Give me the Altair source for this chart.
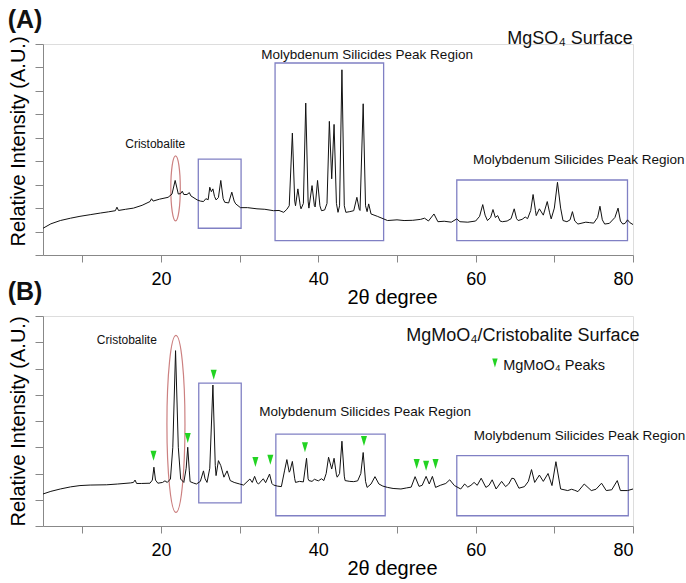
import altair as alt
import pandas as pd

FONT = "Liberation Sans"
LINE = "#111111"
BOX = "#8080c4"
RING = "#cc8080"
GREEN = "#22d322"

# ---- (A) MgSO4 surface: 2θ (degree) and relative intensity ----
a_theta = [5.0, 6.0, 7.2, 8.5, 9.7, 11.0, 12.3, 13.3, 14.2, 14.4, 14.6, 15.5, 16.5, 17.6,
           18.6, 18.8, 19.0, 19.8, 20.9, 21.4, 21.8, 22.2, 22.5, 22.7, 22.9, 23.3, 23.6,
           23.8, 24.6, 25.0, 25.4, 25.7, 26.0, 26.2, 26.4, 26.6, 26.8, 27.0, 27.3, 27.6,
           27.9, 28.1, 28.6, 29.0, 29.3, 29.5, 30.1, 31.0, 32.2, 33.2, 34.3, 35.0, 35.6,
           36.0, 36.3, 36.7, 37.0, 37.1, 37.4, 37.7, 37.8, 38.1, 38.4, 38.7, 38.8, 39.2,
           39.5, 39.6, 39.9, 40.2, 40.4, 40.8, 41.1, 41.4, 41.7, 42.0, 42.3, 42.5, 42.7,
           43.0, 43.3, 43.5, 44.0, 44.5, 44.9, 45.2, 45.3, 45.7, 46.0, 46.2, 46.4, 46.7,
           47.5, 48.8, 50.0, 50.9, 52.0, 53.0, 53.5, 54.0, 54.7, 55.2, 56.0, 56.9, 57.6,
           58.0, 59.0, 60.0, 60.5, 60.9, 61.2, 61.5, 61.9, 62.2, 62.5, 62.8, 63.1, 63.4,
           64.0, 64.5, 64.9, 65.2, 65.4, 65.9, 66.3, 66.6, 67.0, 67.3, 67.6, 67.7, 68.1,
           68.6, 69.1, 69.4, 69.6, 70.0, 70.4, 70.8, 71.1, 71.6, 72.0, 72.3, 72.6, 73.0,
           74.0, 74.5, 75.0, 75.5, 75.8, 76.1, 76.4, 77.0, 77.7, 78.1, 78.4, 78.7, 79.0,
           79.3, 79.6, 80.0]
a_int = [1.14, 1.33, 1.47, 1.57, 1.65, 1.72, 1.79, 1.84, 1.89, 2.04, 1.90, 1.95, 2.00, 2.12,
         2.28, 2.40, 2.30, 2.38, 2.46, 2.60, 3.18, 2.60, 2.62, 2.72, 2.58, 2.58, 2.66,
         2.52, 2.35, 2.30, 2.28, 2.40, 2.36, 2.89, 2.70, 2.82, 2.50, 2.35, 2.45, 3.18,
         2.40, 2.25, 2.22, 2.68, 2.30, 2.18, 2.02, 2.02, 1.97, 1.95, 1.89, 1.90, 1.82,
         1.95, 2.10, 5.20, 2.30, 2.10, 2.82, 2.10, 1.97, 2.20, 6.48, 2.30, 2.00, 2.96,
         2.10, 2.05, 3.18, 2.10, 1.89, 1.92, 2.20, 5.70, 3.25, 5.57, 2.20, 1.82, 2.10,
         7.90, 2.10, 1.82, 1.85, 1.89, 2.46, 1.95, 1.90, 6.45, 2.10, 1.85, 2.18, 1.75,
         1.65, 1.47, 1.50, 1.47, 1.48, 1.52, 1.57, 1.45, 1.75, 1.42, 1.44, 1.40, 1.54,
         1.42, 1.40, 1.45, 1.65, 2.15, 1.70, 1.47, 1.60, 1.94, 1.60, 1.68, 1.45, 1.42,
         1.45, 1.55, 1.97, 1.55, 1.47, 1.52, 1.62, 1.55, 1.90, 2.58, 1.90, 1.68, 1.97,
         1.70, 2.28, 1.80, 1.54, 2.00, 3.10, 2.00, 1.47, 1.42, 1.50, 1.85, 1.45, 1.32,
         1.40, 1.38, 1.36, 1.60, 2.08, 1.50, 1.32, 1.35, 1.60, 2.00, 1.45, 1.32, 1.35,
         1.50, 1.38, 1.30]

# ---- (B) MgMoO4/cristobalite surface ----
b_theta = [5.0, 6.0, 7.2, 8.5, 9.7, 11.0, 13.1, 14.5, 16.1, 16.5, 16.7, 16.9, 17.5, 18.6,
           18.9, 19.1, 19.3, 19.6, 20.2, 20.5, 20.8, 21.2, 21.5, 21.85, 22.2, 22.5, 22.9,
           23.2, 23.4, 23.6, 23.7, 24.1, 24.5, 25.0, 25.4, 25.6, 25.85, 26.2, 26.6, 26.9,
           27.0, 27.3, 27.6, 28.0, 28.4, 28.8, 29.3, 30.0, 30.5, 31.3, 31.6, 31.9, 32.2,
           32.4, 33.0, 33.3, 33.8, 34.1, 34.3, 34.8, 35.3, 35.7, 36.0, 36.3, 36.4, 36.7,
           37.0, 37.1, 37.6, 38.1, 38.5, 38.7, 38.8, 39.2, 39.5, 40.0, 40.4, 40.7, 41.0,
           41.3, 41.7, 42.0, 42.3, 42.4, 42.7, 43.0, 43.3, 43.4, 44.0, 44.5, 45.0, 45.4,
           45.7, 46.0, 46.2, 46.7, 47.2, 47.7, 48.2, 48.8, 49.5, 50.5, 51.2, 51.8, 52.3,
           52.8, 53.2, 53.7, 54.1, 54.5, 54.9, 55.5, 56.2, 56.7, 57.3, 58.1, 58.6, 59.0,
           59.4, 59.8, 60.2, 60.7, 61.3, 61.7, 62.1, 62.6, 63.3, 63.8, 64.2, 64.6, 64.9,
           65.5, 66.2, 66.7, 67.1, 67.5, 68.1, 68.6, 69.2, 69.7, 70.2, 70.8, 71.7, 72.2,
           72.6, 73.0, 73.8, 74.7, 75.3, 76.0, 76.6, 77.3, 78.0, 78.4, 79.3, 80.0]
b_int = [1.22, 1.32, 1.41, 1.49, 1.54, 1.56, 1.57, 1.60, 1.64, 1.66, 1.75, 1.62, 1.62, 1.63,
         1.75, 2.24, 1.75, 1.63, 1.66, 1.72, 1.66, 1.79, 3.00, 6.68, 3.00, 1.79, 1.66,
         2.20, 3.00, 2.10, 1.69, 1.64, 1.60, 1.70, 2.10, 1.80, 1.66, 2.20, 5.37, 2.30,
         1.92, 2.49, 2.30, 1.86, 2.10, 1.73, 1.66, 1.60, 1.56, 1.79, 1.66, 1.89, 1.65,
         1.60, 1.80, 1.65, 1.98, 1.62, 1.56, 1.52, 1.50, 2.10, 2.53, 2.05, 2.10, 2.46,
         1.80, 1.66, 1.70, 1.68, 2.58, 1.80, 1.73, 1.70, 1.78, 1.72, 1.80, 1.73, 2.00,
         2.62, 2.17, 2.58, 1.95, 1.86, 2.00, 3.23, 1.90, 1.73, 1.70, 1.69, 1.72, 2.00,
         2.80, 1.70, 1.47, 1.60, 1.88, 1.60, 1.52, 1.47, 1.43, 1.41, 1.45, 1.48, 1.88,
         1.51, 1.55, 1.89, 1.60, 1.89, 1.47, 1.55, 1.62, 1.76, 1.54, 1.41, 1.60, 1.48,
         1.55, 1.66, 1.55, 1.82, 1.47, 1.55, 1.76, 1.41, 1.70, 1.50, 1.60, 1.82, 1.80,
         1.44, 1.50, 1.70, 2.15, 1.66, 1.94, 1.70, 2.00, 1.54, 2.45, 1.41, 1.35, 1.40,
         1.36, 1.31, 1.60, 1.35, 1.40, 1.63, 1.35, 1.38, 1.73, 1.35, 1.35, 1.41]

# MgMoO4 peak markers (panel B)
mk_theta = [19.05, 23.4, 26.7, 32.0, 33.9, 38.3, 45.8, 52.5, 53.7, 54.9]
mk_int = [2.68, 3.35, 5.76, 2.44, 2.52, 3.0, 3.24, 2.36, 2.3, 2.36]

# Legend entry for the markers
key_theta = [62.45]
key_int = [6.21]
key_text_theta = [63.5]
key_text_int = [6.1]
key_label = ["MgMoO₄ Peaks"]

# Peak-region boxes
a_box_lo = [24.74, 34.5, 57.6]
a_box_hi = [30.18, 48.3, 79.3]
a_box_bot = [1.14, 0.61, 0.61]
a_box_top = [4.09, 8.19, 3.2]
b_box_lo = [24.8, 34.6, 57.6]
b_box_hi = [30.2, 48.5, 79.4]
b_box_bot = [0.88, 0.39, 0.39]
b_box_top = [5.44, 3.5, 2.68]

# Cristobalite ring: centre (theta, intensity), height in px, width/height ratio
a_ring = (21.85, 2.84, 65, 0.146)
b_ring = (21.9, 3.89, 177, 0.102)

REGION = "Molybdenum Silicides Peak Region"
a_text = ["Cristobalite", REGION, REGION, "MgSO₄ Surface"]
a_text_x = [19.27, 46.2, 73.1, 72.0]
a_text_y = [4.74, 8.55, 4.06, 9.2]
a_text_size = [12, 13.5, 13.5, 18]
b_text = ["Cristobalite", REGION, REGION, "MgMoO₄/Cristobalite Surface"]
b_text_x = [15.66, 45.95, 73.2, 66.0]
b_text_y = [7.1, 4.35, 3.44, 7.25]
b_text_size = [12, 13.5, 13.5, 18]


def ellipse_path(r):
    k = 0.5523
    return (f"M0,-1C{k*r:.4f},-1,{r},{-k},{r},0C{r},{k},{k*r:.4f},1,0,1"
            f"C{-k*r:.4f},1,{-r},{k},{-r},0C{-r},{-k},{-k*r:.4f},-1,0,-1Z")


TRI = "M-0.6,-1L0.6,-1L0,1Z"


def panel(theta, inten, lo, hi, bot, top, ring, texts, tx, ty, tsz,
          ymax, height, tag, ytitle_y, with_markers=False):
    xenc = alt.X("theta:Q", title="2θ degree",
                 scale=alt.Scale(domain=[5, 80], nice=False, zero=False),
                 axis=alt.Axis(values=list(range(10, 81, 10)),
                               labelExpr="datum.value % 20 === 0 ? datum.label : ''",
                               tickSize=7, labelPadding=8, labelFontSize=18,
                               titleFontSize=20, titleFontWeight="normal",
                               titleX=349, titleY=32, titleBaseline="top",
                               grid=False))
    yenc = alt.Y("intensity:Q", title="Relative Intensity (A.U.)",
                 scale=alt.Scale(domain=[0, ymax], nice=False),
                 axis=alt.Axis(values=list(range(0, ymax + 1)), labels=False,
                               tickSize=8, titleFontSize=20, titleFontWeight="normal",
                               titleX=-25, titleY=ytitle_y, titleBaseline="middle",
                               grid=False))

    trace = alt.Chart(pd.DataFrame({"theta": theta, "intensity": inten})).mark_line(
        color=LINE, strokeWidth=1).encode(x=xenc, y=yenc)

    boxes = alt.Chart(pd.DataFrame({"theta": lo, "theta2": hi,
                                    "intensity": bot, "intensity2": top})).mark_rect(
        fillOpacity=0, stroke=BOX, strokeWidth=1.3).encode(
        x=xenc, x2="theta2:Q", y=yenc, y2="intensity2:Q")

    ring_layer = alt.Chart(pd.DataFrame({"theta": [ring[0]], "intensity": [ring[1]]})).mark_point(
        shape=ellipse_path(ring[3]), size=ring[2] ** 2, filled=False,
        stroke=RING, strokeWidth=1.2, opacity=1).encode(x=xenc, y=yenc)

    labels = alt.Chart(pd.DataFrame({"theta": tx, "intensity": ty, "t": texts,
                                     "fs": tsz})).mark_text(
        font=FONT, color="#111111", baseline="middle", align="center").encode(
        x=xenc, y=yenc, text="t:N", size=alt.Size("fs:Q", scale=None))

    tag_layer = alt.Chart(pd.DataFrame({"t": [tag]})).mark_text(
        font=FONT, fontSize=25, fontWeight="bold", color="#111111",
        baseline="middle", align="center").encode(
        text="t:N", x=alt.value(-18), y=alt.value(-24))

    layers = [boxes, ring_layer, trace, labels, tag_layer]

    if with_markers:
        markers = alt.Chart(pd.DataFrame({"theta": mk_theta, "intensity": mk_int})).mark_point(
            shape=TRI, size=100, filled=True, color=GREEN, opacity=1).encode(x=xenc, y=yenc)
        key_mark = alt.Chart(pd.DataFrame({"theta": key_theta, "intensity": key_int})).mark_point(
            shape=TRI, size=80, filled=True, color=GREEN, opacity=1).encode(x=xenc, y=yenc)
        key_text = alt.Chart(pd.DataFrame({"theta": key_text_theta, "intensity": key_text_int,
                                           "t": key_label})).mark_text(
            font=FONT, fontSize=14.5, color="#111111", align="left",
            baseline="middle").encode(x=xenc, y=yenc, text="t:N")
        layers += [markers, key_mark, key_text]

    return alt.layer(*layers).properties(width=590, height=height)


top_panel = panel(a_theta, a_int, a_box_lo, a_box_hi, a_box_bot, a_box_top, a_ring,
                  a_text, a_text_x, a_text_y, a_text_size, 9, 211, "(A)", 97)
bottom_panel = panel(b_theta, b_int, b_box_lo, b_box_hi, b_box_bot, b_box_top, b_ring,
                     b_text, b_text_x, b_text_y, b_text_size, 8, 210, "(B)", 105,
                     with_markers=True)

chart = alt.vconcat(top_panel, bottom_panel, spacing=61, bounds="flush").properties(
    padding={"left": 7, "top": 7, "right": 0, "bottom": 0}
).configure_view(stroke=None).configure_axis(
    domainColor="#777777", tickColor="#777777", labelColor="#111111",
    titleColor="#111111", labelFont=FONT, titleFont=FONT
).configure(background="white")

chart.save("out.html", embed_options={"renderer": "svg", "actions": False})
